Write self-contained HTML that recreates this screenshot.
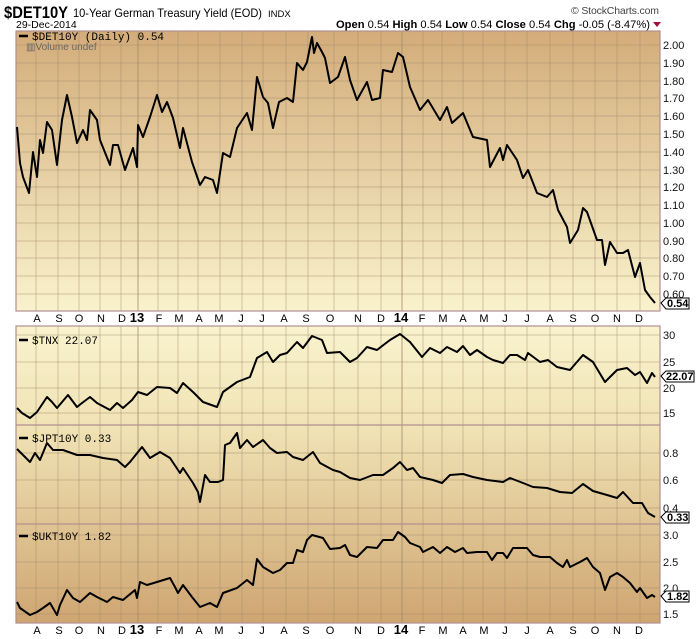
<!DOCTYPE html>
<html><head><meta charset="utf-8"><style>
body{margin:0;background:#fff;width:700px;height:639px;overflow:hidden}
svg{display:block;font-family:"Liberation Sans",sans-serif}
</style></head><body>
<svg width="700" height="639" viewBox="0 0 700 639" xmlns="http://www.w3.org/2000/svg">
<defs>
<linearGradient id="g1" x1="0" y1="0" x2="0" y2="1"><stop offset="0" stop-color="#d3ac7a"/><stop offset="1" stop-color="#f9f2cc"/></linearGradient>
<linearGradient id="g2" gradientUnits="userSpaceOnUse" x1="0" y1="326" x2="0" y2="623"><stop offset="0" stop-color="#f9f3ce"/><stop offset="0.35" stop-color="#f0e2b4"/><stop offset="1" stop-color="#cea571"/></linearGradient>
</defs>
<text x="4" y="18" font-size="17" font-weight="bold" fill="#000" textLength="64" lengthAdjust="spacingAndGlyphs">$DET10Y</text>
<text x="73" y="17" font-size="12" fill="#000" textLength="189" lengthAdjust="spacingAndGlyphs">10-Year German Treasury Yield (EOD)</text>
<text x="268" y="17" font-size="9.5" fill="#000">INDX</text>
<text x="16" y="28" font-size="10.5" fill="#000">29-Dec-2014</text>
<text x="571" y="14" font-size="10.5" fill="#444" textLength="88">© StockCharts.com</text>
<text x="336" y="28" font-size="11" fill="#000" textLength="314" lengthAdjust="spacingAndGlyphs"><tspan font-weight="bold">Open</tspan> 0.54 <tspan font-weight="bold">High</tspan> 0.54 <tspan font-weight="bold">Low</tspan> 0.54 <tspan font-weight="bold">Close</tspan> 0.54 <tspan font-weight="bold">Chg</tspan> -0.05 (-8.47%)</text>
<path d="M653 22 h8 l-4 5z" fill="#a0103a"/>
<rect x="16" y="31" width="644" height="280" fill="url(#g1)"/>
<rect x="16" y="326" width="644" height="297" fill="url(#g2)"/>
<g stroke="#a08a6a" stroke-opacity="0.45" stroke-width="1">
<path d="M16 45H660M16 63H660M16 81H660M16 98H660M16 116H660M16 134H660M16 152H660M16 170H660M16 187H660M16 205H660M16 223H660M16 241H660M16 258H660M16 276H660M16 294H660"/>
<path d="M16 335H660M16 362H660M16 388H660M16 413H660M16 453H660M16 480H660M16 508H660M16 535H660M16 562H660M16 588H660M16 614H660"/>
<path d="M36 31V311M58 31V311M79 31V311M100 31V311M121 31V311M158 31V311M178 31V311M198 31V311M220 31V311M242 31V311M263 31V311M286 31V311M308 31V311M334 31V311M358 31V311M381 31V311M423 31V311M442 31V311M463 31V311M483 31V311M505 31V311M527 31V311M550 31V311M573 31V311M595 31V311M617 31V311M640 31V311"/>
<path d="M36 326V623M58 326V623M79 326V623M100 326V623M121 326V623M158 326V623M178 326V623M198 326V623M220 326V623M242 326V623M263 326V623M286 326V623M308 326V623M334 326V623M358 326V623M381 326V623M423 326V623M442 326V623M463 326V623M483 326V623M505 326V623M527 326V623M550 326V623M573 326V623M595 326V623M617 326V623M640 326V623"/>
</g>
<g stroke="#a08a6a" stroke-opacity="0.8"><path d="M138 31V311M402 31V311M138 326V623M402 326V623"/></g>
<g fill="none" stroke="#b09090" stroke-width="1.2">
<rect x="16" y="31" width="644" height="280"/>
<rect x="16" y="326" width="644" height="297"/>
<path d="M16 425H660M16 524H660"/>
</g>
<g fill="none" stroke="#000" stroke-width="2" stroke-linejoin="round">
<polyline points="17,127 20,163 23,177 29,193 33,152 37,177 40,140 43,153 47,122 52,130 57,165 62,120 67,95 72,117 77,143 83,130 87,140 90,110 97,120 100,140 110,165 113,145 118,145 125,170 133,148 137,167 138,125 143,137 150,117 157,95 162,112 167,102 173,118 180,148 183,128 192,162 200,185 205,177 213,180 217,193 223,153 230,157 237,128 247,113 252,130 257,77 263,97 268,103 273,128 279,102 287,98 293,102 297,63 303,70 307,62 312,37 314,53 317,43 322,52 325,58 330,83 338,77 345,57 350,80 357,100 367,82 372,100 380,98 383,70 392,72 398,53 403,57 410,87 420,110 428,100 440,120 447,107 452,123 463,113 473,137 487,140 490,167 500,148 503,160 507,145 517,160 523,178 528,170 537,193 547,197 553,190 558,210 567,227 570,243 578,230 583,208 587,212 597,240 602,240 605,265 610,242 617,253 623,253 628,250 635,277 640,263 645,290 650,297 655,303"/>
<polyline points="17,408 22,413 30,418 37,412 47,397 52,402 57,408 68,395 77,407 82,403 90,397 97,403 110,410 117,403 123,408 132,400 138,392 147,395 157,387 170,388 177,393 183,383 193,392 203,402 217,407 223,392 237,382 250,377 257,358 267,352 273,362 280,355 287,353 297,342 303,348 312,336 322,340 327,353 340,352 350,362 357,358 367,347 377,350 390,340 400,334 410,342 422,357 430,348 440,353 447,347 457,352 463,346 470,355 477,350 487,357 493,360 503,363 510,355 517,355 525,360 528,353 540,362 548,360 557,367 570,370 583,355 593,362 605,382 617,370 627,368 635,375 640,372 647,383 652,373 655,377"/>
<polyline points="17,449 30,462 35,453 40,460 47,443 53,450 63,450 77,455 90,455 103,458 117,460 125,467 130,462 142,447 150,458 160,452 170,458 180,473 183,468 193,483 198,492 200,502 205,475 210,482 218,482 223,480 225,445 230,443 237,433 240,448 247,440 253,447 263,440 270,448 277,453 287,452 293,457 303,460 313,452 320,463 333,470 340,472 350,478 360,480 373,475 383,475 393,468 400,462 407,470 413,468 420,477 433,480 442,483 450,475 463,474 473,477 487,480 503,482 510,478 523,483 533,487 547,488 560,492 572,493 583,484 593,491 607,495 617,498 623,492 633,503 642,503 648,513 655,517"/>
<polyline points="17,602 20,608 30,615 37,612 43,608 50,603 57,615 60,605 67,590 73,598 80,602 90,593 97,597 107,602 113,597 123,600 135,590 137,598 140,582 147,585 157,582 170,578 175,587 178,593 183,585 192,597 200,607 210,603 217,607 223,593 237,588 247,580 253,585 257,559 263,567 273,573 280,570 287,563 293,563 297,550 303,552 307,540 312,535 323,538 330,549 340,548 345,545 350,555 357,557 367,547 377,548 383,540 393,540 398,532 405,537 410,543 420,547 423,552 433,547 440,553 447,547 455,552 463,548 467,553 477,552 487,552 492,560 497,553 503,553 507,558 513,548 527,548 533,555 540,557 550,557 557,563 563,567 567,560 570,567 580,562 587,558 593,567 600,573 605,590 610,577 617,573 623,577 630,583 637,592 640,588 647,598 652,595 655,597"/>
</g>
<g font-size="11" fill="#000">
<path d="M19 36h9" stroke="#000" stroke-width="2.5"/><text x="32" y="40" font-family="Liberation Mono,monospace">$DET10Y (Daily) 0.54</text>
<text x="26" y="50" font-size="10" fill="#666">▥Volume undef</text>
<path d="M19 340h9" stroke="#000" stroke-width="2.5"/><text x="32" y="344" font-family="Liberation Mono,monospace">$TNX 22.07</text>
<path d="M19 438h9" stroke="#000" stroke-width="2.5"/><text x="32" y="442" font-family="Liberation Mono,monospace">$JPT10Y 0.33</text>
<path d="M19 536h9" stroke="#000" stroke-width="2.5"/><text x="32" y="540" font-family="Liberation Mono,monospace">$UKT10Y 1.82</text>
</g>
<g font-size="11" fill="#111">
<text x="663" y="49">2.00</text><text x="663" y="67">1.90</text><text x="663" y="85">1.80</text><text x="663" y="102">1.70</text><text x="663" y="120">1.60</text><text x="663" y="138">1.50</text><text x="663" y="156">1.40</text><text x="663" y="174">1.30</text><text x="663" y="191">1.20</text><text x="663" y="209">1.10</text><text x="663" y="227">1.00</text><text x="663" y="245">0.90</text><text x="663" y="262">0.80</text><text x="663" y="280">0.70</text><text x="663" y="298">0.60</text>
<text x="663" y="339">30</text><text x="663" y="366">25</text><text x="663" y="392">20</text><text x="663" y="417">15</text>
<text x="663" y="457">0.8</text><text x="663" y="484">0.6</text><text x="663" y="512">0.4</text>
<text x="663" y="539">3.0</text><text x="663" y="566">2.5</text><text x="663" y="592">2.0</text><text x="663" y="618">1.5</text>
</g>
<g fill="#fff" stroke="#000" stroke-width="1">
<path d="M661 303 l5 -5 h23 v11 h-23z"/><path d="M661 376 l5 -5 h28 v11 h-28z"/><path d="M661 517 l5 -5 h23 v11 h-23z"/><path d="M661 596 l5 -5 h23 v11 h-23z"/>
</g>
<g font-size="11" font-weight="bold" fill="#000">
<text x="667" y="307">0.54</text><text x="666" y="380">22.07</text><text x="667" y="521">0.33</text><text x="667" y="600">1.82</text>
</g>
<g font-size="11" fill="#000" text-anchor="middle">
<text x="37" y="322">A</text><text x="59" y="322">S</text><text x="79" y="322">O</text><text x="101" y="322">N</text><text x="122" y="322">D</text><text x="137" y="322" font-weight="bold" font-size="13">13</text><text x="159" y="322">F</text><text x="179" y="322">M</text><text x="199" y="322">A</text><text x="219" y="322">M</text><text x="241" y="322">J</text><text x="262" y="322">J</text><text x="284" y="322">A</text><text x="306" y="322">S</text><text x="330" y="322">O</text><text x="358" y="322">N</text><text x="381" y="322">D</text><text x="401" y="322" font-weight="bold" font-size="13">14</text><text x="422" y="322">F</text><text x="443" y="322">M</text><text x="463" y="322">A</text><text x="484" y="322">M</text><text x="505" y="322">J</text><text x="527" y="322">J</text><text x="550" y="322">A</text><text x="573" y="322">S</text><text x="595" y="322">O</text><text x="617" y="322">N</text><text x="639" y="322">D</text>
</g>
<g font-size="11" fill="#000" text-anchor="middle">
<text x="37" y="634">A</text><text x="59" y="634">S</text><text x="79" y="634">O</text><text x="101" y="634">N</text><text x="122" y="634">D</text><text x="137" y="634" font-weight="bold" font-size="13">13</text><text x="159" y="634">F</text><text x="179" y="634">M</text><text x="199" y="634">A</text><text x="219" y="634">M</text><text x="241" y="634">J</text><text x="262" y="634">J</text><text x="284" y="634">A</text><text x="306" y="634">S</text><text x="330" y="634">O</text><text x="358" y="634">N</text><text x="381" y="634">D</text><text x="401" y="634" font-weight="bold" font-size="13">14</text><text x="422" y="634">F</text><text x="443" y="634">M</text><text x="463" y="634">A</text><text x="484" y="634">M</text><text x="505" y="634">J</text><text x="527" y="634">J</text><text x="550" y="634">A</text><text x="573" y="634">S</text><text x="595" y="634">O</text><text x="617" y="634">N</text><text x="639" y="634">D</text>
</g>
</svg>
</body></html>
